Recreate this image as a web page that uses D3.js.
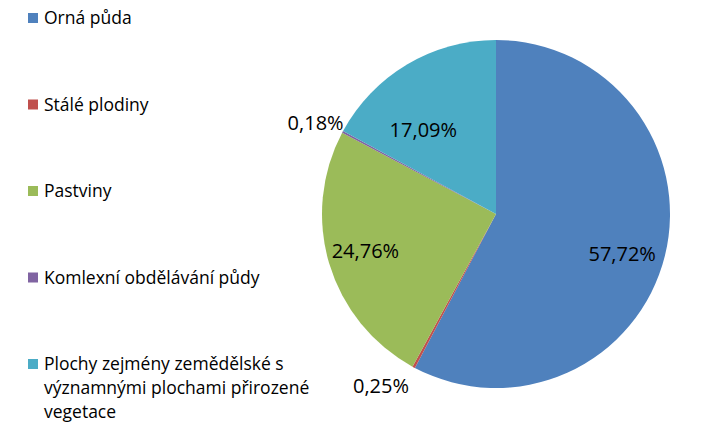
<!DOCTYPE html>
<html lang="cs">
<head>
<meta charset="UTF-8" />
<title>Zemědělská půda</title>
<script src="https://d3js.org/d3.v7.min.js"></script>
<style>
  body { margin: 0; background: #fff; }
  text { font-family: "Open Sans", "Noto Sans", sans-serif; font-size: 17.5px; fill: #000; }
  text.lbl { font-size: 20px; }
</style>
</head>
<body>
<script>
// data
var categories = ["Orná půda", "Stálé plodiny", "Pastviny", "Komlexní obdělávání půdy",
                  "Plochy zejmény zemědělské s významnými plochami přirozené vegetace"];
var values = [57.72, 0.25, 24.76, 0.18, 17.09];
var legendLines = [["Orná půda"], ["Stálé plodiny"], ["Pastviny"], ["Komlexní obdělávání půdy"],
                   ["Plochy zejmény zemědělské s", "významnými plochami přirozené", "vegetace"]];
var colors = ["#4F81BD", "#C0504D", "#9BBB59", "#8064A2", "#4BACC6"];

// label placement: distance as share of radius, and angle nudge in degrees
var labelR = [0.76, 1.19, 0.78, 1.16, 0.64];
var labelTurn = [3.5, 5.5, 1, -1.5, -10];

var W = 720, H = 428;
var cx = 496, cy = 214, R = 174;

var svg = d3.select("body").append("svg").attr("width", W).attr("height", H);

var pie = d3.pie().sort(null).value(function(d) { return d; });
var arcs = pie(values);
var arc = d3.arc().innerRadius(0).outerRadius(R);

var g = svg.append("g").attr("transform", "translate(" + cx + "," + cy + ")");
g.selectAll("path.slice").data(arcs).enter().append("path")
  .attr("class", "slice")
  .attr("d", arc)
  .attr("fill", function(d, i) { return colors[i]; });

var fmt = function(v) { return v.toFixed(2).replace(".", ",") + "%"; };
var mid = function(d, i) { return (d.startAngle + d.endAngle) / 2 + labelTurn[i] * Math.PI / 180; };

g.selectAll("text.lbl").data(arcs).enter().append("text")
  .attr("class", "lbl")
  .attr("text-anchor", "middle")
  .attr("dy", "0.35em")
  .attr("x", function(d, i) { return Math.sin(mid(d, i)) * R * labelR[i]; })
  .attr("y", function(d, i) { return -Math.cos(mid(d, i)) * R * labelR[i]; })
  .text(function(d) { return fmt(d.value); });

// legend
var legY = d3.scalePoint().domain(d3.range(categories.length)).range([18, 364]);
var leg = svg.selectAll("g.leg").data(categories).enter().append("g")
  .attr("class", "leg")
  .attr("transform", function(d, i) { return "translate(28," + legY(i) + ")"; });
leg.append("rect").attr("x", 0).attr("y", -5).attr("width", 10).attr("height", 10)
  .attr("fill", function(d, i) { return colors[i]; });
leg.append("text").attr("x", 16).attr("y", 0)
  .selectAll("tspan").data(function(d, i) { return legendLines[i]; }).enter().append("tspan")
  .attr("x", 16).attr("dy", function(d, j) { return j === 0 ? "0.35em" : "24px"; })
  .text(function(d) { return d; });
</script>
</body>
</html>
